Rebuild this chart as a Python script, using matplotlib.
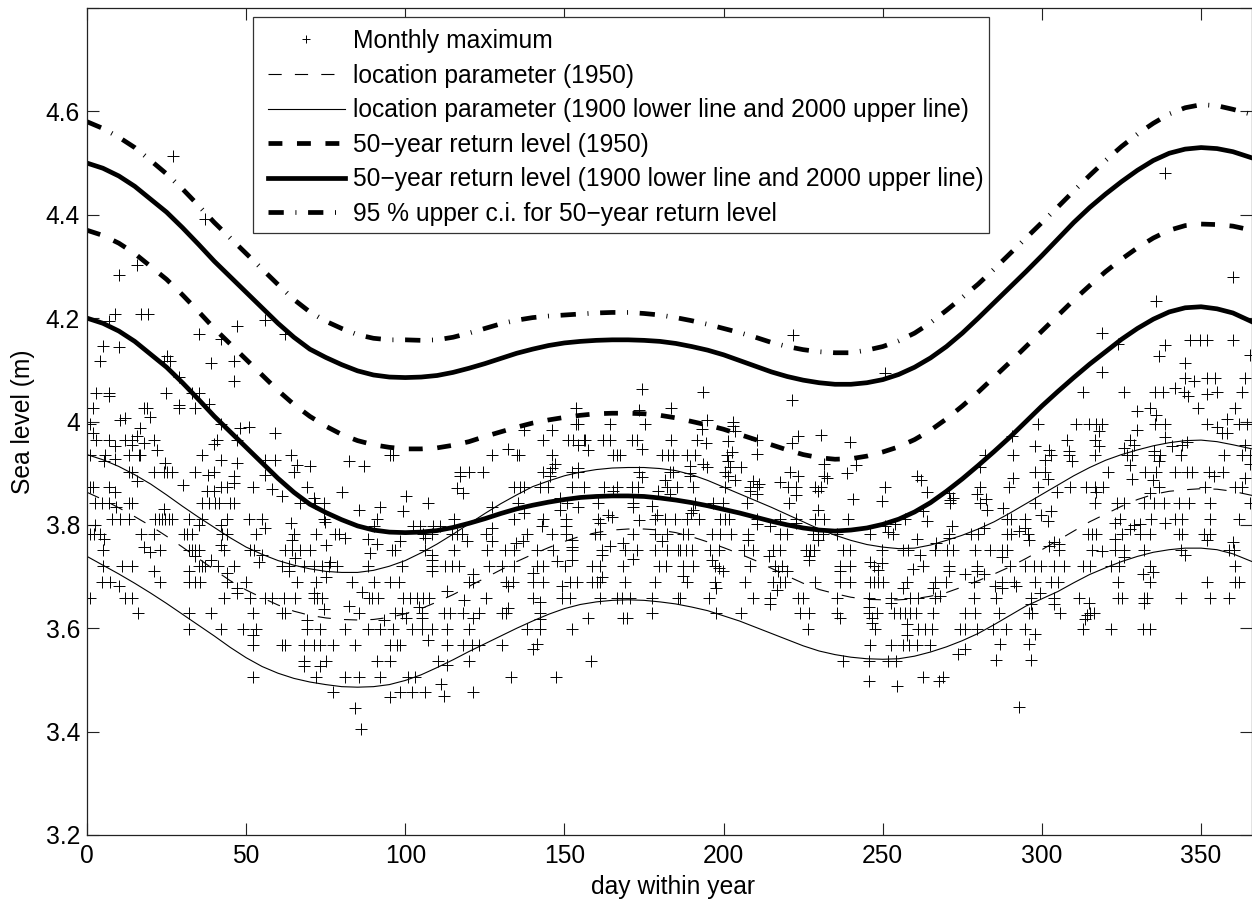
import matplotlib
matplotlib.use("Agg")
import matplotlib.pyplot as plt
from matplotlib.patches import Rectangle

plt.rcParams["font.family"] = ["Liberation Sans", "DejaVu Sans"]
plt.rcParams["lines.scale_dashes"] = False

# monthly maxima, most of them sit on the gauge's discrete levels
row_levels = [4.026, 3.995, 3.965, 3.936, 3.903, 3.873, 3.842, 3.812, 3.797, 3.782,
              3.752, 3.721, 3.690, 3.659, 3.629, 3.599, 3.568, 3.537, 3.506, 3.476]
row_days = [
    [1.9, 18.0, 18.8, 29.0, 34.0, 153.5, 183.5],
    [164.3, 175.3, 153.5, 154.4, 335.6, 338.8, 298.8, 310.7, 314.7, 317.0, 318.9, 351.9, 361.8, 364.4],
    [2.9, 6.9, 12.0, 14.1, 20.9, 40.8, 47.1, 143.4, 151.2, 152.8, 156.1, 156.4, 162.2, 164.3, 171.1,
     172.7, 183.5, 210.6, 191.5, 307.9, 316.8, 327.8],
    [0.8, 5.8, 13.1, 16.2, 16.8, 36.1, 64.1, 96.2, 95.2, 127.3, 135.8, 135.0, 146.2, 165.4, 166.4,
     167.4, 180.5, 182.6, 184.2, 201.0, 191.0, 188.4, 282.0, 290.8, 302.7, 308.4, 316.8, 326.7,
     328.3, 335.1, 337.2, 343.8, 357.1, 362.9, 365.5],
    [13.1, 14.1, 20.9, 24.3, 25.1, 26.7, 34.0, 39.8, 64.9, 154.4, 152.3, 143.4, 145.5, 117.2, 120.1,
     124.3, 173.5, 184.2, 183.2, 200.4, 220.9, 297.7, 300.9, 320.8, 332.5, 335.8, 341.7, 345.6,
     347.2, 352.6, 356.8],
    [1.0, 1.9, 6.8, 42.2, 44.0, 52.1, 69.1, 134.2, 136.0, 137.3, 142.3, 144.9, 152.3, 156.1, 162.4,
     166.4, 171.1, 173.2, 185.2, 182.3, 190.5, 200.4, 208.3, 210.6, 220.3, 222.7, 228.7, 230.5,
     250.7, 280.7, 289.8, 298.8, 308.9, 313.9, 316.8, 319.1, 336.9, 351.3, 360.8, 362.9],
    [2.6, 4.7, 6.8, 13.1, 14.1, 36.1, 38.2, 40.3, 41.4, 45.0, 46.1, 67.0, 71.7, 74.3, 107.2, 135.5,
     150.7, 160.6, 171.6, 207.5, 196.8, 199.7, 220.6, 271.1, 191.0, 280.7, 297.7, 316.8, 323.6,
     325.7, 332.0, 335.1, 338.3, 343.0, 346.1, 352.9, 365.5],
    [7.9, 10.5, 13.1, 21.5, 22.5, 23.6, 24.6, 25.7, 26.7, 31.9, 36.1, 44.0, 51.0, 55.0, 74.3, 91.1,
     115.3, 134.2, 143.4, 150.5, 160.6, 178.4, 181.6, 184.7, 188.4, 192.4, 198.9, 200.4, 201.8,
     210.6, 217.7, 222.7, 228.7, 231.5, 239.2, 257.0, 289.0, 290.4, 294.8, 324.6, 334.4, 341.7,
     344.0, 352.9, 361.8],
    [102.5, 104.6, 108.8, 110.9, 143.0, 150.5],
    [1.0, 2.1, 4.2, 17.0, 20.9, 30.4, 31.4, 33.0, 44.0, 42.4, 53.2, 65.1, 72.0, 78.0, 79.1, 105.7,
     108.3, 114.6, 116.3, 117.7, 125.3, 146.0, 138.1, 150.5, 159.6, 161.2, 171.6, 178.4, 182.3,
     187.3, 188.9, 196.2, 198.9, 202.3, 207.8, 217.7, 219.8, 228.2, 229.8, 231.3, 235.5, 246.0,
     253.1, 270.9, 277.8, 279.9, 289.0, 290.4, 295.6, 314.5, 315.7, 317.0, 325.2, 330.9, 334.1,
     343.0, 344.0, 350.8, 352.9],
    [5.0, 23.0, 31.9, 33.0, 34.0, 35.1, 42.9, 51.3, 52.4, 62.3, 64.4, 67.0, 70.2, 95.7, 96.8, 106.2,
     115.3, 125.6, 131.3, 134.2, 141.3, 146.3, 152.3, 161.7, 169.0, 172.7, 178.4, 182.3, 185.8,
     186.3, 188.2, 190.0, 195.7, 198.7, 206.4, 209.3, 215.4, 217.7, 225.9, 227.1, 228.4, 237.6,
     239.7, 249.7, 256.5, 258.0, 266.4, 270.1, 272.0, 279.1, 283.8, 287.5, 289.0, 305.3, 315.7,
     322.9, 325.7, 332.0, 343.8, 358.7, 360.2],
    [5.0, 11.0, 14.1, 35.1, 36.1, 37.2, 41.0, 46.1, 61.3, 63.4, 68.1, 71.2, 73.8, 75.9, 78.5, 88.3,
     98.9, 108.3, 112.5, 114.6, 117.0, 126.4, 130.3, 134.2, 141.3, 143.4, 150.2, 158.5, 161.2,
     168.5, 179.8, 181.9, 187.3, 190.5, 197.3, 208.3, 216.1, 218.2, 236.6, 239.7, 247.2, 262.7,
     270.9, 279.6, 290.1, 294.8, 297.4, 299.8, 303.7, 306.8, 312.8, 315.2, 321.8, 324.1, 333.8, 360.8],
    [4.7, 7.1, 23.0, 31.9, 34.0, 35.6, 44.0, 50.1, 66.0, 72.0, 83.2, 90.3, 95.2, 98.1, 120.1, 121.2,
     131.6, 133.7, 140.2, 143.4, 151.7, 153.8, 158.5, 160.1, 161.2, 169.0, 178.4, 188.4, 197.3,
     206.7, 215.4, 217.7, 219.3, 228.7, 236.6, 239.7, 246.0, 247.2, 248.6, 250.2, 257.7, 266.4,
     269.9, 278.6, 287.5, 291.1, 297.7, 302.7, 305.1, 323.9, 333.8, 351.9, 360.8, 361.8],
    [1.0, 12.0, 14.1, 42.9, 51.1, 56.0, 58.1, 61.8, 65.4, 71.2, 72.3, 73.8, 88.5, 89.5, 91.3, 99.4,
     101.5, 103.6, 105.7, 107.5, 125.3, 140.2, 149.1, 151.7, 161.2, 166.4, 168.0, 170.6, 177.4,
     185.8, 186.3, 195.5, 209.3, 214.6, 223.5, 225.0, 235.5, 245.7, 252.5, 258.6, 261.2, 266.4,
     278.6, 285.7, 296.7, 303.7, 311.5, 323.9, 325.2, 332.0, 333.0, 343.8, 352.9, 358.9],
    [15.9, 31.9, 39.0, 52.1, 61.3, 62.3, 85.3, 96.8, 98.9, 105.1, 112.0, 114.0, 118.2, 123.3, 130.3,
     131.6, 142.3, 177.4, 197.6, 205.4, 224.0, 226.9, 235.5, 245.7, 248.1, 253.5, 255.4, 257.0,
     258.6, 260.4, 265.7, 275.8, 278.9, 286.6, 295.8, 296.9, 305.8, 315.2, 316.3],
    [31.9, 42.2, 49.0, 53.2, 69.1, 73.1, 81.2, 88.3, 92.1, 96.2, 102.0, 105.1, 108.3, 113.2, 120.1,
     138.1, 142.3, 152.3, 226.6, 247.6, 261.2, 263.3, 265.4, 274.3, 275.8, 279.6, 284.5, 288.7,
     294.8, 312.8, 321.8, 331.7, 334.1],
    [52.1, 61.3, 62.3, 68.1, 71.2, 73.3, 77.3, 84.3, 95.2, 97.3, 98.3, 113.2, 118.2, 120.8, 123.3,
     130.3, 246.0, 252.5, 256.3, 258.3, 260.6, 264.8],
    [68.1, 75.2, 91.1, 95.2, 110.4, 120.1, 158.3, 237.4, 245.7, 251.7, 254.2],
    [52.1, 72.0, 81.2, 85.3, 92.1, 101.0, 103.0, 133.2, 147.3, 262.7, 268.8],
    [98.3, 102.2, 106.2, 121.4],
]

# maxima that do not sit on a level row
extra_days = [38.2, 29.0, 19.9, 10.5, 12.0, 1.0, 16.8, 42.2, 48.0, 51.0, 59.0, 1.9, 18.0, 15.7, 8.9, 14.1,
              22.0, 40.0, 8.9, 42.2, 47.1, 56.0, 59.2, 66.0, 70.2, 82.2, 87.1, 5.2, 24.6, 37.9, 46.1, 56.0,
              8.9, 30.1, 46.1, 15.7, 58.1, 80.1, 37.7, 39.8, 61.3, 71.2, 85.3, 92.1, 9.2, 24.1, 64.1, 74.9,
              2.6, 35.1, 42.2, 56.0, 90.1, 81.2, 88.3, 5.2, 64.4, 18.0, 19.9, 75.2, 91.1, 42.2, 89.0, 55.0,
              39.0, 34.0, 65.4, 53.9, 76.4, 63.4, 20.9, 31.9, 44.0, 75.2, 9.9, 47.1, 47.1, 71.2, 86.4, 74.3,
              82.2, 69.1, 93.2, 52.1, 68.1, 73.1, 77.3, 84.3, 86.1,
              27.0, 37.2, 9.9, 15.7, 17.0, 19.1, 8.9, 6.8, 47.1, 56.0, 62.3, 35.1, 42.1, 5.0, 9.9, 4.0, 24.3,
              26.2, 25.1, 39.0, 46.1, 28.8, 46.1, 2.9, 6.8, 24.9, 33.0, 35.1, 6.8,
              174.5, 173.5, 137.3, 146.2, 154.4, 157.5, 132.4, 174.5, 147.0, 146.0, 154.4, 145.5, 117.2,
              174.5, 181.6, 116.3, 118.2, 179.5, 183.2, 165.4, 100.2, 148.6, 171.6, 99.2, 127.3, 154.4,
              177.4, 148.6, 137.3, 163.8, 164.8, 179.0, 173.5, 127.3, 161.2, 106.2, 98.3, 119.3, 127.3,
              134.8, 137.1, 152.3, 180.5, 152.3, 164.3, 168.5, 108.3, 108.3, 161.7, 171.6, 147.5, 152.3,
              108.3, 140.2, 121.2, 161.7, 132.4, 149.1, 113.2, 118.4, 142.3, 104.4, 132.4, 100.2, 121.4,
              142.3, 157.5, 168.5, 169.5, 105.1, 107.2, 141.3, 140.2, 113.2, 111.2, 112.2, 95.2,
              193.4, 221.6, 194.7, 193.3, 203.0, 203.0, 203.6, 223.5, 230.5, 239.7, 221.4, 194.5, 201.5,
              210.6, 202.5, 201.5, 193.6, 194.7, 202.0, 205.4, 189.4, 189.4, 201.5, 189.4, 231.5, 241.6,
              238.7, 223.5, 231.5, 232.6, 260.6, 261.9, 203.6, 217.7, 211.2, 209.3, 208.3, 210.6, 222.7,
              229.6, 263.8, 270.9, 240.5, 249.7, 271.1, 272.2, 190.5, 189.6, 229.6, 262.7, 263.8, 210.6,
              214.6, 222.7, 250.7, 253.8, 271.6, 251.7, 207.8, 229.6, 270.9, 260.6, 266.7, 214.4, 226.9,
              226.9, 261.7, 196.2, 198.7, 246.0, 249.7, 248.6, 259.6, 217.2, 199.7, 219.8, 236.6, 270.9,
              187.3, 275.8, 197.6, 216.7, 256.5, 265.9, 268.0, 214.6, 252.5, 245.7, 236.6, 246.5, 246.5,
              257.7, 257.7, 275.8, 273.7, 245.7, 254.6, 267.8,
              300.9, 309.5, 336.7, 327.8, 365.5, 280.7, 290.8, 354.0, 363.9, 301.9, 328.3, 334.8, 317.0,
              279.6, 282.4, 304.8, 334.1, 287.7, 282.8, 302.7, 299.8, 301.9, 322.9, 281.7, 294.8, 328.8,
              330.9, 338.8, 292.7, 327.8, 295.8, 322.9, 351.9, 360.0, 303.7, 305.3, 302.1, 318.9, 287.5,
              325.7, 345.1, 281.7, 279.6, 331.7, 334.8, 285.4, 291.9, 287.5, 299.5, 314.7, 296.7, 303.7,
              332.0, 314.2, 313.6, 297.7, 286.7, 295.8, 285.7, 296.7, 292.7,
              338.8, 360.0, 335.8, 318.9, 323.9, 338.8, 346.6, 349.8, 351.9, 360.0, 336.7, 365.5, 344.9,
              318.9, 344.9, 347.9, 351.9, 354.5, 363.9, 312.8, 325.7, 335.6, 338.0, 341.9, 344.5, 345.9,
              351.9, 355.0, 362.9, 329.9, 334.1, 335.8, 348.9, 360.8, 358.2, 355.0, 356.6, 358.2, 317.8,
              329.9, 290.6, 338.8, 297.7, 317.8, 328.8, 340.9, 344.0, 345.6, 363.9, 302.1, 308.4, 335.1,
              325.7, 221.8, 250.7]
extra_levels = [4.034, 4.032, 4.008, 4.003, 4.006, 3.995, 3.987, 3.996, 3.987, 3.990, 3.977, 3.977, 3.959, 3.972, 3.953, 3.955,
                3.945, 3.956, 3.927, 3.926, 3.919, 3.926, 3.926, 3.916, 3.913, 3.923, 3.913, 3.923, 3.919, 3.897, 3.895, 3.897,
                3.864, 3.877, 3.881, 3.884, 3.869, 3.864, 3.866, 3.866, 3.855, 3.852, 3.829, 3.834, 3.834, 3.830, 3.803, 3.806,
                3.800, 3.800, 3.800, 3.794, 3.797, 3.774, 3.772, 3.772, 3.771, 3.758, 3.747, 3.761, 3.763, 3.761, 3.745, 3.742,
                3.732, 3.739, 3.735, 3.729, 3.729, 3.710, 3.711, 3.710, 3.706, 3.700, 3.681, 3.677, 3.669, 3.669, 3.671, 3.637,
                3.643, 3.616, 3.616, 3.587, 3.526, 3.526, 3.476, 3.445, 3.406,
                4.513, 4.392, 4.284, 4.302, 4.208, 4.208, 4.208, 4.194, 4.184, 4.197, 4.169, 4.169, 4.160, 4.147, 4.145, 4.118, 4.118,
                4.118, 4.126, 4.114, 4.118, 4.087, 4.078, 4.056, 4.056, 4.056, 4.056, 4.056, 4.049,
                4.062, 4.022, 3.984, 3.984, 3.955, 3.944, 3.947, 3.947, 3.917, 3.910, 3.910, 3.894, 3.894,
                3.893, 3.886, 3.871, 3.862, 3.865, 3.860, 3.865, 3.855, 3.852, 3.835, 3.827, 3.835, 3.835,
                3.837, 3.829, 3.823, 3.820, 3.815, 3.820, 3.809, 3.794, 3.804, 3.775, 3.769, 3.768, 3.768,
                3.764, 3.769, 3.771, 3.769, 3.758, 3.760, 3.765, 3.742, 3.733, 3.742, 3.734, 3.731, 3.733,
                3.711, 3.707, 3.704, 3.700, 3.681, 3.681, 3.673, 3.655, 3.651, 3.641, 3.639, 3.620, 3.620,
                3.618, 3.620, 3.620, 3.620, 3.620, 3.578, 3.570, 3.560, 3.529, 3.493, 3.469, 3.467,
                4.057, 4.041, 4.002, 3.986, 4.000, 3.991, 3.981, 3.971, 3.973, 3.960, 3.959, 3.959, 3.962,
                3.938, 3.941, 3.923, 3.918, 3.912, 3.912, 3.912, 3.913, 3.900, 3.895, 3.894, 3.918, 3.915,
                3.900, 3.895, 3.895, 3.891, 3.895, 3.886, 3.886, 3.882, 3.880, 3.884, 3.865, 3.860, 3.858,
                3.865, 3.863, 3.862, 3.850, 3.847, 3.849, 3.852, 3.829, 3.823, 3.829, 3.826, 3.807, 3.802,
                3.797, 3.804, 3.798, 3.802, 3.797, 3.787, 3.771, 3.771, 3.775, 3.773, 3.765, 3.740, 3.740,
                3.733, 3.742, 3.733, 3.716, 3.729, 3.726, 3.713, 3.715, 3.711, 3.710, 3.710, 3.710, 3.710,
                3.702, 3.704, 3.678, 3.674, 3.678, 3.678, 3.663, 3.646, 3.649, 3.641, 3.620, 3.620, 3.611,
                3.609, 3.587, 3.560, 3.551, 3.497, 3.489, 3.497,
                3.926, 3.923, 3.923, 3.915, 3.917, 3.912, 3.891, 3.895, 3.891, 3.889, 3.889, 3.886, 3.863,
                3.860, 3.850, 3.863, 3.862, 3.833, 3.828, 3.826, 3.820, 3.807, 3.804, 3.793, 3.794, 3.800,
                3.802, 3.804, 3.789, 3.792, 3.771, 3.773, 3.771, 3.766, 3.766, 3.763, 3.760, 3.749, 3.738,
                3.738, 3.742, 3.704, 3.710, 3.704, 3.709, 3.681, 3.682, 3.678, 3.669, 3.649, 3.646, 3.646,
                3.649, 3.626, 3.618, 3.589, 3.569, 3.569, 3.539, 3.539, 3.447,
                4.480, 4.280, 4.233, 4.171, 4.149, 4.148, 4.158, 4.158, 4.158, 4.158, 4.126, 4.129, 4.113,
                4.095, 4.084, 4.078, 4.084, 4.084, 4.084, 4.057, 4.057, 4.057, 4.057, 4.065, 4.057, 4.049,
                4.053, 4.057, 4.057, 4.020, 4.026, 4.013, 4.026, 4.026, 4.004, 3.989, 3.978, 3.978, 3.981,
                3.983, 3.971, 3.970, 3.953, 3.953, 3.955, 3.953, 3.955, 3.960, 3.955, 3.945, 3.942, 3.942,
                3.949, 4.168, 4.094]

curve_days = [0, 5, 10, 15, 20, 25, 30, 35, 40, 45, 50, 55, 60, 65, 70, 75, 80, 85, 90, 95, 100, 105, 110, 115,
              120, 125, 130, 135, 140, 145, 150, 155, 160, 165, 170, 175, 180, 185, 190, 195, 200, 205, 210, 215,
              220, 225, 230, 235, 240, 245, 250, 255, 260, 265, 270, 275, 280, 285, 290, 295, 300, 305, 310, 315,
              320, 325, 330, 335, 340, 345, 350, 355, 360, 366]
upper_ci = [4.58, 4.567, 4.55, 4.53, 4.505, 4.479, 4.45, 4.418, 4.385, 4.355, 4.325, 4.295, 4.265, 4.236, 4.212, 4.194,
            4.18, 4.168, 4.161, 4.158, 4.158, 4.157, 4.158, 4.163, 4.171, 4.18, 4.189, 4.196, 4.201, 4.204, 4.206, 4.208,
            4.21, 4.211, 4.211, 4.209, 4.206, 4.201, 4.195, 4.188, 4.18, 4.172, 4.163, 4.153, 4.145, 4.139, 4.135, 4.133,
            4.133, 4.138, 4.145, 4.156, 4.171, 4.191, 4.215, 4.24, 4.266, 4.295, 4.325, 4.355, 4.385, 4.415, 4.446, 4.476,
            4.505, 4.532, 4.556, 4.577, 4.595, 4.607, 4.613, 4.611, 4.604, 4.594]
rl_2000 = [4.50, 4.49, 4.475, 4.455, 4.43, 4.405, 4.375, 4.343, 4.31, 4.28, 4.25, 4.22, 4.19, 4.163, 4.14, 4.124,
           4.11, 4.098, 4.09, 4.086, 4.085, 4.086, 4.089, 4.095, 4.103, 4.112, 4.122, 4.132, 4.14, 4.147, 4.152, 4.155,
           4.157, 4.158, 4.158, 4.157, 4.155, 4.151, 4.145, 4.138, 4.129, 4.118, 4.107, 4.096, 4.087, 4.08, 4.075, 4.072,
           4.072, 4.075, 4.081, 4.091, 4.105, 4.123, 4.145, 4.171, 4.20, 4.23, 4.26, 4.29, 4.321, 4.353, 4.385, 4.414,
           4.44, 4.464, 4.486, 4.505, 4.519, 4.527, 4.53, 4.528, 4.522, 4.51]
rl_1950 = [4.37, 4.36, 4.345, 4.325, 4.30, 4.275, 4.245, 4.213, 4.18, 4.15, 4.12, 4.09, 4.06, 4.033, 4.01, 3.991,
           3.975, 3.963, 3.955, 3.95, 3.947, 3.947, 3.949, 3.954, 3.961, 3.971, 3.98, 3.989, 3.997, 4.003, 4.008, 4.012,
           4.015, 4.016, 4.016, 4.015, 4.012, 4.007, 4.0, 3.993, 3.985, 3.975, 3.965, 3.955, 3.945, 3.936, 3.93, 3.927,
           3.928, 3.933, 3.941, 3.951, 3.965, 3.983, 4.005, 4.03, 4.057, 4.086, 4.115, 4.145, 4.175, 4.205, 4.235, 4.263,
           4.29, 4.314, 4.336, 4.355, 4.37, 4.379, 4.382, 4.381, 4.378, 4.37]
rl_1900 = [4.20, 4.19, 4.175, 4.155, 4.13, 4.105, 4.075, 4.043, 4.01, 3.98, 3.95, 3.92, 3.89, 3.863, 3.84, 3.824,
           3.81, 3.798, 3.79, 3.786, 3.785, 3.786, 3.789, 3.795, 3.803, 3.812, 3.822, 3.831, 3.838, 3.844, 3.849, 3.853,
           3.855, 3.856, 3.856, 3.855, 3.852, 3.848, 3.843, 3.837, 3.83, 3.823, 3.815, 3.807, 3.80, 3.794, 3.79, 3.788,
           3.79, 3.794, 3.801, 3.811, 3.825, 3.843, 3.865, 3.889, 3.915, 3.942, 3.97, 4.0, 4.03, 4.058, 4.085, 4.111,
           4.135, 4.159, 4.18, 4.198, 4.212, 4.22, 4.222, 4.218, 4.21, 4.193]
loc_2000 = [3.936, 3.926, 3.913, 3.897, 3.879, 3.858, 3.836, 3.815, 3.795, 3.775, 3.757, 3.743, 3.731, 3.722, 3.715, 3.710,
            3.708, 3.708, 3.712, 3.720, 3.731, 3.746, 3.763, 3.782, 3.802, 3.822, 3.841, 3.858, 3.874, 3.885, 3.895, 3.902,
            3.907, 3.910, 3.911, 3.911, 3.909, 3.905, 3.897, 3.886, 3.873, 3.860, 3.847, 3.834, 3.820, 3.806, 3.792, 3.780,
            3.770, 3.762, 3.757, 3.754, 3.755, 3.761, 3.770, 3.780, 3.792, 3.806, 3.823, 3.841, 3.859, 3.877, 3.895, 3.911,
            3.925, 3.936, 3.945, 3.953, 3.959, 3.963, 3.964, 3.961, 3.955, 3.947]
loc_1950 = [3.863, 3.849, 3.833, 3.816, 3.798, 3.778, 3.757, 3.735, 3.713, 3.692, 3.674, 3.659, 3.645, 3.633, 3.625, 3.620,
            3.617, 3.616, 3.617, 3.621, 3.628, 3.638, 3.651, 3.665, 3.681, 3.697, 3.713, 3.729, 3.743, 3.756, 3.768, 3.778,
            3.785, 3.790, 3.792, 3.792, 3.790, 3.785, 3.777, 3.767, 3.756, 3.744, 3.731, 3.716, 3.701, 3.687, 3.675, 3.667,
            3.660, 3.656, 3.655, 3.655, 3.657, 3.662, 3.669, 3.680, 3.692, 3.705, 3.719, 3.735, 3.752, 3.770, 3.788, 3.806,
            3.821, 3.836, 3.849, 3.859, 3.865, 3.868, 3.870, 3.869, 3.865, 3.857]
loc_1900 = [3.739, 3.722, 3.705, 3.687, 3.668, 3.648, 3.627, 3.606, 3.585, 3.563, 3.543, 3.526, 3.513, 3.503, 3.496, 3.491,
            3.487, 3.486, 3.487, 3.491, 3.499, 3.510, 3.524, 3.539, 3.555, 3.570, 3.585, 3.600, 3.614, 3.627, 3.638, 3.646,
            3.651, 3.654, 3.655, 3.654, 3.651, 3.647, 3.641, 3.634, 3.624, 3.614, 3.602, 3.590, 3.578, 3.566, 3.556, 3.549,
            3.544, 3.541, 3.540, 3.541, 3.546, 3.554, 3.564, 3.576, 3.590, 3.607, 3.625, 3.643, 3.657, 3.671, 3.688, 3.704,
            3.717, 3.729, 3.739, 3.747, 3.752, 3.755, 3.755, 3.752, 3.744, 3.729]

xtick_vals = [0, 50, 100, 150, 200, 250, 300, 350]
ytick_vals = [3.2, 3.4, 3.6, 3.8, 4.0, 4.2, 4.4, 4.6, 4.8]
ytick_labels = ["3.2", "3.4", "3.6", "3.8", "4", "4.2", "4.4", "4.6", ""]

fig = plt.figure(figsize=(12.52, 8.99), dpi=100)
ax = fig.add_axes([87 / 1252, 1 - 835 / 899, 1165 / 1252, 827 / 899])

days = []
levels = []
for lev, ds in zip(row_levels, row_days):
    days += ds
    levels += [lev] * len(ds)
days += extra_days
levels += extra_levels

ax.plot(days, levels, "+", color="black", ms=8.8, mew=0.7, label="Monthly maximum")
ax.plot(curve_days, loc_1950, color="black", lw=0.8, dashes=(9.5, 9.5), label="location parameter (1950)")
ax.plot(curve_days, loc_1900, color="black", lw=0.8, label="location parameter (1900 lower line and 2000 upper line)")
ax.plot(curve_days, loc_2000, color="black", lw=0.8)
ax.plot(curve_days, rl_1950, color="black", lw=3.4, dashes=(10, 10.5), dash_capstyle="butt", label="50\u2212year return level (1950)")
ax.plot(curve_days, rl_1900, color="black", lw=3.4, label="50\u2212year return level (1900 lower line and 2000 upper line)")
ax.plot(curve_days, rl_2000, color="black", lw=3.4)
ax.plot(curve_days, upper_ci, color="black", lw=3.4, dashes=(11, 8.4, 0.7, 8.4), dash_capstyle="butt",
        label="95 % upper c.i. for 50\u2212year return level")

ax.set_xlim(0, 366)
ax.set_ylim(3.2, 4.8)
ax.set_xticks(xtick_vals)
ax.set_yticks(ytick_vals)
ax.set_yticklabels(ytick_labels)
ax.tick_params(direction="in", length=8.5, width=0.8, top=True, right=True, labelsize=17.7, color="#222222")
ax.tick_params(axis="x", pad=6.5)
ax.tick_params(axis="y", pad=5)
for s in ax.spines.values():
    s.set_linewidth(0.9)
    s.set_color("#222222")
ax.set_xlabel("day within year", fontsize=17.7)
ax.xaxis.set_label_coords(0.5026, -0.0485)
ax.set_ylabel("Sea level (m)", fontsize=17.7, labelpad=7.5)

ax.add_patch(Rectangle((166 / 1165, 602 / 827), 736 / 1165, 216 / 827, transform=ax.transAxes, facecolor="white",
                       edgecolor="#333333", linewidth=0.9, zorder=4))
ax.legend(loc="upper left", bbox_to_anchor=(181 / 1165, 1 - 21 / 827), fontsize=17.7, labelspacing=0.43,
          handlelength=3.12, handletextpad=0.33, borderpad=0, borderaxespad=0, markerscale=0.72, frameon=False)

fig.savefig("out.png", dpi=100)
